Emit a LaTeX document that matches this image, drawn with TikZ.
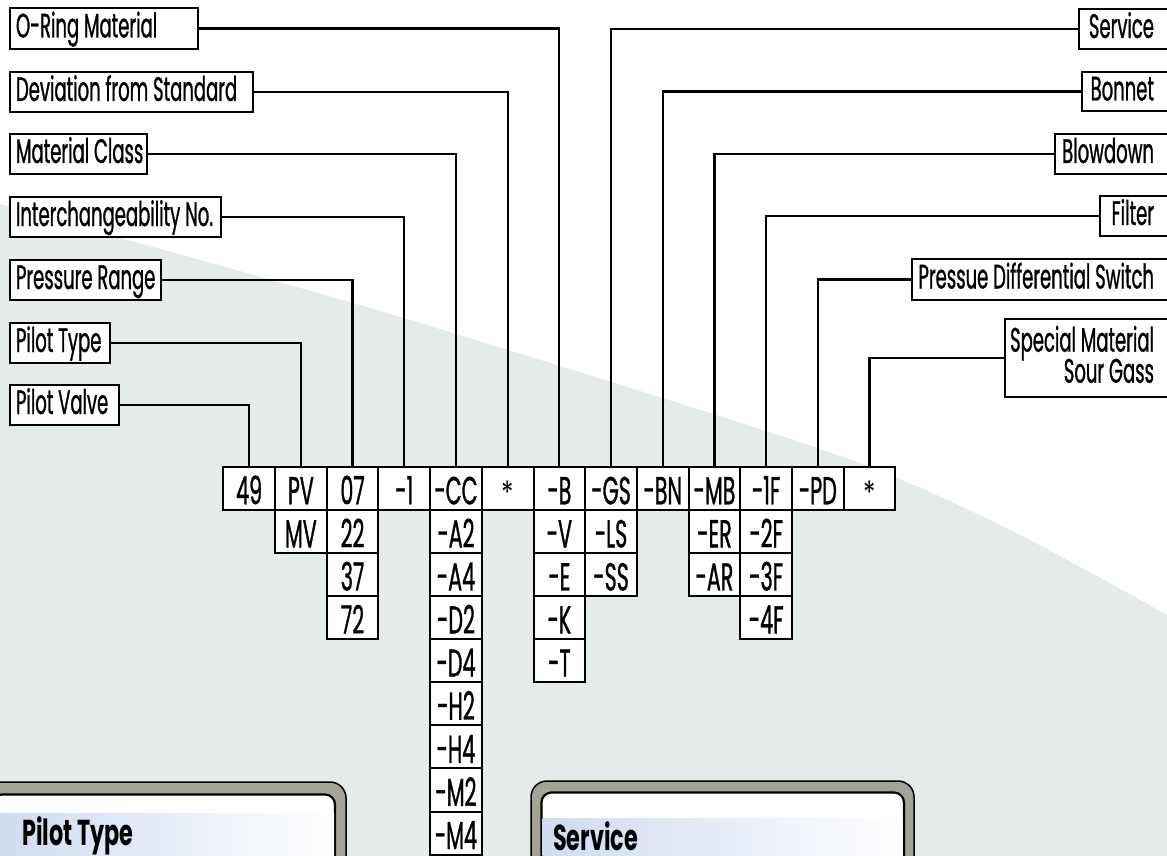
\documentclass[tikz,border=0pt]{standalone}
\usepackage{fontspec}
\setmainfont{Poppins}[FakeStretch=0.53, FakeBold=0.8]
\newfontfamily\headfont{Poppins}[FakeStretch=0.62]
\newfontfamily\astfont{Poppins}[FakeStretch=0.8]
\definecolor{bggrey}{RGB}{229,235,232}
\definecolor{rimgrey}{RGB}{163,163,150}
\definecolor{bandblue}{RGB}{207,219,240}
\newcommand\rtxt[2]{\hbox to #1pt{\hss #2}}
\newcommand\ltxt[2]{\hbox to #1pt{#2\hss}}
\tikzset{
  lbl/.style={draw, line width=2pt, fill=white, inner sep=0pt, anchor=north west,
    font=\fontsize{34}{34}\selectfont, text height=22pt, text depth=4pt},
  cell/.style={draw, line width=2pt, fill=white, inner sep=0pt, anchor=north west,
    minimum width=51.7pt, minimum height=43.1pt, font=\fontsize{39}{39}\selectfont,
    text height=34pt, text depth=2pt},
  astcell/.style={cell, font=\astfont\fontsize{32}{32}\selectfont},
  conn/.style={line width=2.2pt},
  rim/.style={draw=black, fill=rimgrey, line width=1.5pt, rounded corners=16pt},
  inner/.style={draw=black, fill=white, line width=2.2pt, rounded corners=10pt},
  band/.style={left color=bandblue, right color=white},
  head/.style={anchor=base west, inner sep=0pt, font=\headfont\bfseries\fontsize{36}{36}\selectfont}
}
\begin{document}
\begin{tikzpicture}[x=1pt,y=-1pt]
\useasboundingbox (0,0) rectangle (1167,856);
\clip (0,0) rectangle (1167,856);
\fill[white] (0,0) rectangle (1167,856);
\fill[bggrey] plot[smooth] coordinates {(0,204) (110,235) (400,317) (823,450) (1000,525) (1167,615)}
  -- (1167,856) -- (0,856) -- cycle;

% code cells
\foreach \t [count=\r from 0] in {49}
  \node[cell] (c0-\r) at ({222.3+0*51.7},{465.7+\r*43.1}) {\t};
\foreach \t [count=\r from 0] in {PV,MV}
  \node[cell] (c1-\r) at ({222.3+1*51.7},{465.7+\r*43.1}) {\t};
\foreach \t [count=\r from 0] in {07,22,37,72}
  \node[cell] (c2-\r) at ({222.3+2*51.7},{465.7+\r*43.1}) {\t};
\foreach \t [count=\r from 0] in {-1}
  \node[cell] (c3-\r) at ({222.3+3*51.7},{465.7+\r*43.1}) {\t};
\foreach \t [count=\r from 0] in {-CC,-A2,-A4,-D2,-D4,-H2,-H4,-M2,-M4}
  \node[cell] (c4-\r) at ({222.3+4*51.7},{465.7+\r*43.1}) {\t};
\node[astcell] (c5-0) at ({222.3+5*51.7},465.7) {*};
\foreach \t [count=\r from 0] in {-B,-V,-E,-K,-T}
  \node[cell] (c6-\r) at ({222.3+6*51.7},{465.7+\r*43.1}) {\t};
\foreach \t [count=\r from 0] in {-GS,-LS,-SS}
  \node[cell] (c7-\r) at ({222.3+7*51.7},{465.7+\r*43.1}) {\t};
\foreach \t [count=\r from 0] in {-BN}
  \node[cell] (c8-\r) at ({222.3+8*51.7},{465.7+\r*43.1}) {\t};
\foreach \t [count=\r from 0] in {-MB,-ER,-AR}
  \node[cell] (c9-\r) at ({222.3+9*51.7},{465.7+\r*43.1}) {\t};
\foreach \t [count=\r from 0] in {-1F,-2F,-3F,-4F}
  \node[cell] (c10-\r) at ({222.3+10*51.7},{465.7+\r*43.1}) {\t};
\foreach \t [count=\r from 0] in {-PD}
  \node[cell] (c11-\r) at ({222.3+11*51.7},{465.7+\r*43.1}) {\t};
\node[astcell] (c12-0) at ({222.3+12*51.7},465.7) {*};

% left labels
\node[lbl, minimum width=188pt, minimum height=41pt] (oring) at (9,7) {\ltxt{176}{O-Ring Material}};
\node[lbl, minimum width=243pt, minimum height=40pt] (dev) at (9,71) {\ltxt{231}{Deviation from Standard}};
\node[lbl, minimum width=137pt, minimum height=40pt] (matcl) at (9,133) {\ltxt{125}{Material Class}};
\node[lbl, minimum width=211pt, minimum height=40pt] (inter) at (9,196) {\ltxt{199}{Interchangeability No.}};
\node[lbl, minimum width=151pt, minimum height=40pt] (press) at (9,259) {\ltxt{139}{Pressure Range}};
\node[lbl, minimum width=100pt, minimum height=40pt] (ptype) at (9,322) {\ltxt{88}{Pilot Type}};
\node[lbl, minimum width=109pt, minimum height=40pt] (pvalve) at (9,384) {\ltxt{97}{Pilot Valve}};

% right labels
\node[lbl, minimum width=90pt, minimum height=40pt] (serv) at (1078,8) {\rtxt{60}{Service}};
\node[lbl, minimum width=87pt, minimum height=39pt] (bonnet) at (1081,71) {\rtxt{57}{Bonnet}};
\node[lbl, minimum width=114pt, minimum height=40pt] (blow) at (1054,133) {\rtxt{84}{Blowdown}};
\node[lbl, minimum width=69pt, minimum height=40pt] (filter) at (1099,195) {\rtxt{39}{Filter}};
\node[lbl, minimum width=257pt, minimum height=41pt] (pds) at (911,258) {\rtxt{227}{Pressue Differential Switch}};
\node[lbl, minimum width=164pt, minimum height=78pt, text height=55pt, text depth=5.6pt] (spec) at (1004,318)
  {\vbox{\baselineskip=31pt\lineskiplimit=-100pt
   \hbox to 134pt{\hss Special Material}\hbox to 134pt{\hss Sour Gass}}};

% connectors
\draw[conn] (oring.east) -| (c6-0.north);
\draw[conn] (dev.east) -| (c5-0.north);
\draw[conn] (matcl.east) -| (c4-0.north);
\draw[conn] (inter.east) -| (c3-0.north);
\draw[conn] (press.east) -| (c2-0.north);
\draw[conn] (ptype.east) -| (c1-0.north);
\draw[conn] (pvalve.east) -| (c0-0.north);
\draw[conn] (serv.west) -| (c7-0.north);
\draw[conn] (bonnet.west) -| (c8-0.north);
\draw[conn] (blow.west) -| (c9-0.north);
\draw[conn] (filter.west) -| (c10-0.north);
\draw[conn] (pds.west) -| (c11-0.north);
\draw[conn] (spec.west) -| (c12-0.north);

% bottom panels
\draw[rim] (-20,782) rectangle (346,900);
\draw[inner] (-8,794.5) rectangle (335,900);
\shade[band] (-7,813) rectangle (334,900);
\node[head] (ptypehead) at (22,845) {Pilot Type};

\draw[rim] (531,781) rectangle (914,900);
\draw[inner] (541.5,792.5) rectangle (904,900);
\shade[band] (542.6,818) rectangle (902.9,900);
\node[head] (servhead) at (553,850) {Service};
\end{tikzpicture}
\end{document}
